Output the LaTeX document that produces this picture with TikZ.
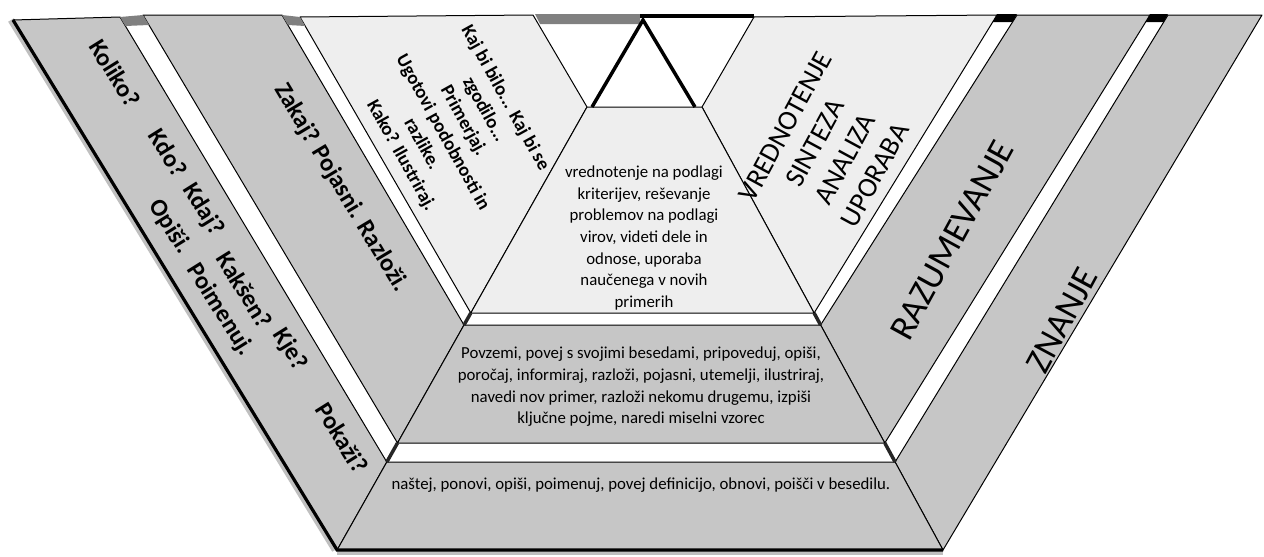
\documentclass[tikz,border=0pt]{standalone}
\usepackage{fontspec}
\setmainfont{Carlito}
\definecolor{bandgrey}{HTML}{C6C6C6}
\definecolor{palegrey}{HTML}{EEEEEE}
\definecolor{capgrey}{HTML}{808080}
\begin{document}
\begin{tikzpicture}[x=0.75pt,y=-0.75pt,
  edge/.style={draw=black,line width=0.75pt,line join=round},
  greyband/.style={edge,fill=bandgrey},
  paleband/.style={edge,fill=palegrey},
  joint/.style={line width=2.6pt,black!85},
  outeredge/.style={line width=2.4pt,black,line join=miter},
  softshadow/.style={line width=5pt,black!25},
  qtxt/.style={inner sep=0pt,font=\fontsize{18.5}{22}\selectfont\bfseries},
  innertxt/.style={inner sep=0pt,align=center,font=\fontsize{14.2}{17.85}\selectfont\bfseries},
  bodytxt/.style={inner sep=0pt,align=center,font=\fontsize{12.6}{16.2}\selectfont},
  leveltxt/.style={inner sep=0pt,align=center,font=\fontsize{21}{25.5}\selectfont},
  bigtxt/.style={inner sep=0pt,font=\fontsize{27}{30}\selectfont},
]
\fill[white] (0,0) rectangle (1264,557);
\useasboundingbox (0,0) rectangle (1264,557);

% key points
\coordinate (OL1) at (13,20);    \coordinate (OL2) at (120,17);
\coordinate (OL3) at (386.8,462); \coordinate (OL4) at (337.1,550);
\coordinate (ML1) at (143,15);   \coordinate (ML2) at (282,15);
\coordinate (ML3) at (464,325);  \coordinate (ML4) at (397.5,443);
\coordinate (IL1) at (300,17);   \coordinate (IL2) at (533,15);
\coordinate (IL3) at (587,107);  \coordinate (IL4) at (470.8,313);
\coordinate (IR1) at (754,17);   \coordinate (IR2) at (997,15);
\coordinate (IR3) at (814.1,313); \coordinate (IR4) at (702,107);
\coordinate (MR1) at (1017,15);  \coordinate (MR2) at (1150,15);
\coordinate (MR3) at (884.8,443); \coordinate (MR4) at (820.6,325);
\coordinate (OR1) at (1168,15);  \coordinate (OR2) at (1262,15);
\coordinate (OR3) at (943,550);  \coordinate (OR4) at (895.1,462);
\coordinate (AP) at (643,20);    \coordinate (AL) at (592,107);
\coordinate (AR) at (695,107);

% shadows of the heavy outer edges
\draw[softshadow] ([xshift=-1.5pt]OL1) -- ([xshift=-1.5pt]OL4);
\draw[softshadow] ([yshift=-1.5pt]OL4) -- ([yshift=-1.5pt]OR3);

% side bands
\draw[greyband] (OL1)--(OL2)--(OL3)--(OL4)--cycle;
\draw[greyband] (ML1)--(ML2)--(ML3)--(ML4)--cycle;
\draw[paleband] (IL1)--(IL2)--(IL3)--(IL4)--cycle;
\draw[paleband] (IR1)--(IR2)--(IR3)--(IR4)--cycle;
\draw[greyband] (MR1)--(MR2)--(MR3)--(MR4)--cycle;
\draw[greyband] (OR1)--(OR2)--(OR3)--(OR4)--cycle;

% pyramid tiers
\draw[paleband] (IL3)--(IR4)--(IR3)--(IL4)--cycle;
\draw[greyband] (ML3)--(MR4)--(MR3)--(ML4)--cycle;
\draw[greyband] (OL3)--(OR4)--(OR3)--(OL4)--cycle;

% top caps of the white gaps
\fill[capgrey] (120,17)--(143,15)--(149,25)--(125.4,26)--cycle;
\fill[capgrey] (282,15)--(300,17)--(305.2,26)--(287.9,25)--cycle;
\fill[capgrey] (535,14)--(640,14)--(640,24)--(540,24)--cycle;
\draw[line width=2.4pt] (640,16)--(754,16);
\fill[black] (997,14)--(1017,14)--(1012.6,22)--(992.7,22)--cycle;
\fill[black] (1150,14)--(1168,14)--(1163.7,22)--(1145.7,22)--cycle;

% dark joints where the gaps meet
\draw[joint] (IL4)--(ML3);
\draw[joint] (IR3)--(MR4);
\draw[joint] (ML4)--(OL3);
\draw[joint] (MR3)--(OR4);

% heavy outer edges
\draw[outeredge] (OL1)--(OL4)--(OR3);

% apex triangle
\draw[line width=2.6pt,line join=miter] (AL)--(AP)--(AR);

% texts: outer left band
\node[qtxt,rotate=-58] (koliko) at (115,73) {Koliko?};
\node[qtxt,rotate=-58] (kdo) at (168,153) {Kdo?};
\node[qtxt,rotate=-58] (kdaj) at (203,210) {Kdaj?};
\node[qtxt,rotate=-58] (kaksen) at (245,290) {Kakšen?};
\node[qtxt,rotate=-58] (kje) at (290,350) {Kje?};
\node[qtxt,rotate=-58] (pokazi) at (342,438) {Pokaži?};
\node[qtxt,rotate=-58] (opisi) at (170,227) {Opiši.};
\node[qtxt,rotate=-58] (poimenuj) at (220,310) {Poimenuj.};

% middle left band
\node[qtxt,rotate=-59] (zakaj) at (341,188) {Zakaj? Pojasni. Razloži.};

% inner left panel
\node[innertxt,rotate=-61] (kajbi) at (453,127)
  {Kaj bi bilo... Kaj bi se\\ zgodilo...\\ Primerjaj.\\ Ugotovi podobnosti in\\ razlike.\\ Kako? Ilustriraj.};

% pyramid texts
\node[bodytxt] (vrednotenjetxt) at (644,238)
  {vrednotenje na podlagi\\ kriterijev, reševanje\\ problemov na podlagi\\ virov, videti dele in\\ odnose, uporaba\\ naučenega v novih\\ primerih};
\node[bodytxt] (povzemi) at (641,387)
  {Povzemi, povej s svojimi besedami, pripoveduj, opiši,\\ poročaj, informiraj, razloži, pojasni, utemelji, ilustriraj,\\ navedi nov primer, razloži nekomu drugemu, izpiši\\ ključne pojme, naredi miselni vzorec};
\node[bodytxt] (nastej) at (641,485)
  {naštej, ponovi, opiši, poimenuj, povej definicijo, obnovi, poišči v besedilu.};

% right side
\node[leveltxt,rotate=61.5] (levels) at (830,151) {VREDNOTENJE\\ SINTEZA\\ ANALIZA\\ UPORABA};
\node[bigtxt,rotate=61.3] (razumevanje) at (952,240) {RAZUMEVANJE};
\node[bigtxt,rotate=61.7] (znanje) at (1062,320) {ZNANJE};
\end{tikzpicture}
\end{document}
